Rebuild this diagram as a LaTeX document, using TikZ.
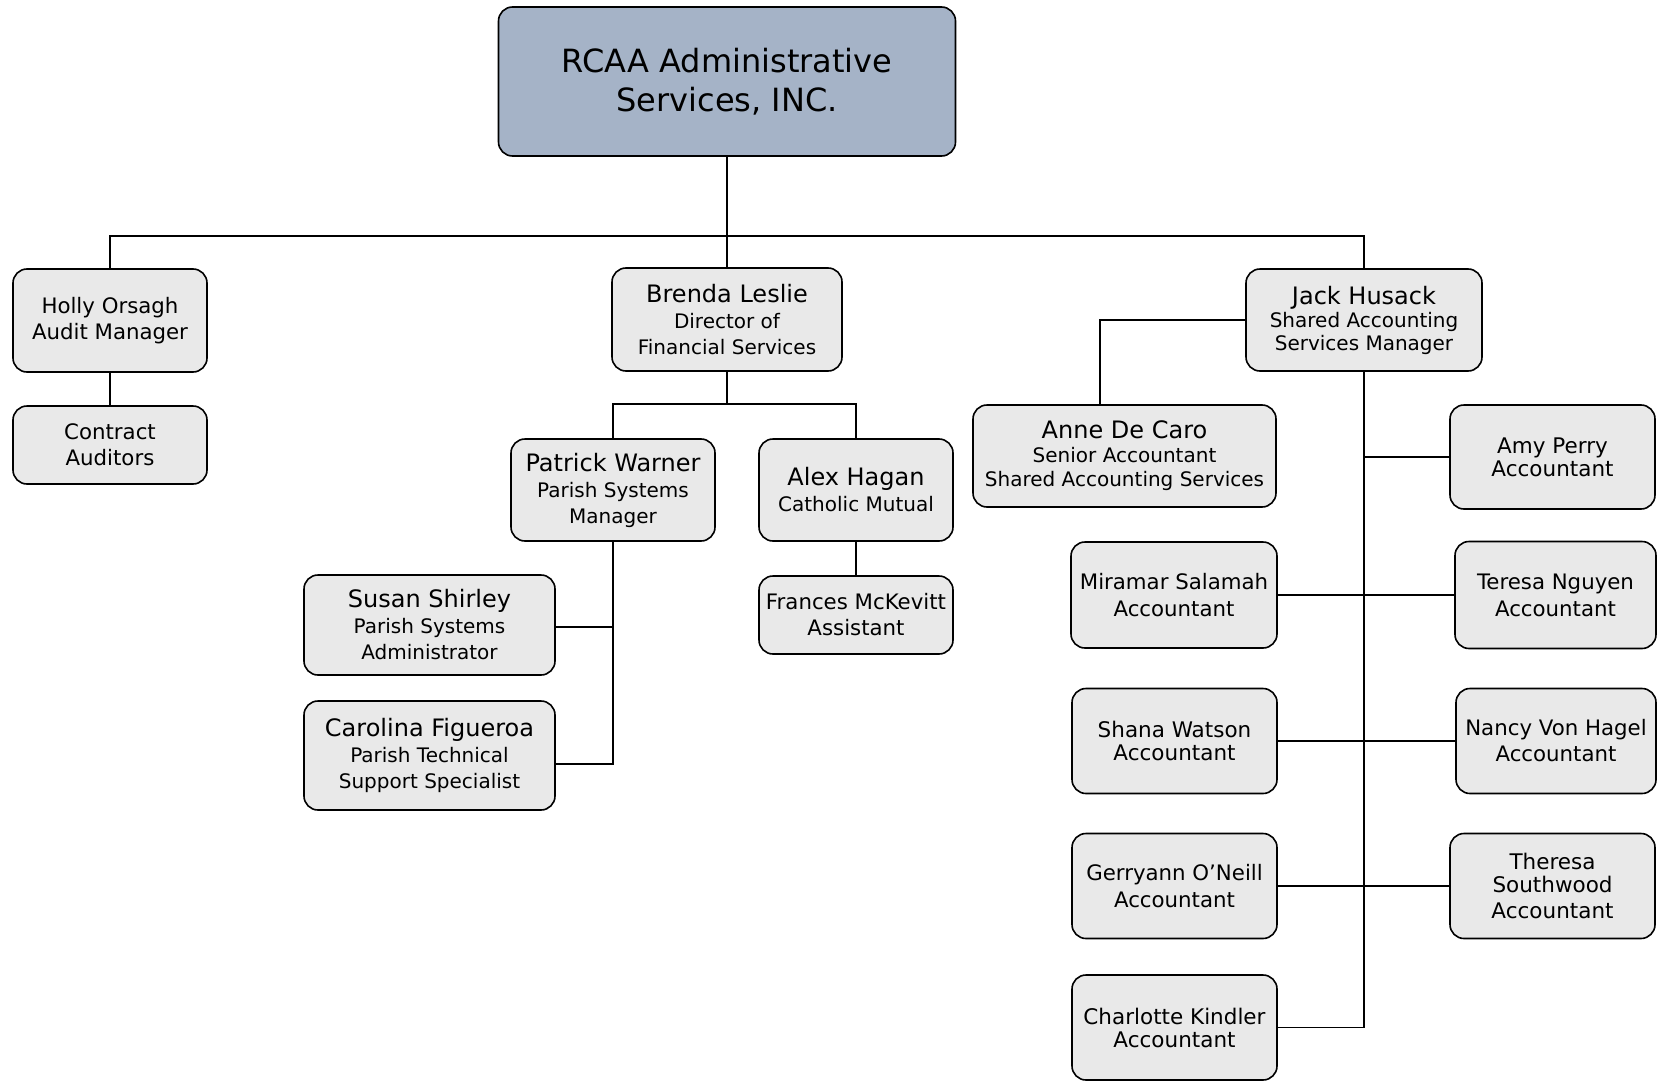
\documentclass[tikz,border=0pt]{standalone}
\usepackage{fontspec}
\setmainfont{DejaVu Sans}
\definecolor{boxgray}{RGB}{233,233,233}
\definecolor{topblue}{RGB}{165,179,199}
\newcommand{\nm}[1]{{\fontsize{24}{27}\selectfont #1}}
\begin{document}
\begin{tikzpicture}[x=1pt,y=-1pt,
  box/.style={draw, line width=1.6pt, rounded corners=14pt, fill=boxgray, align=center, inner sep=0pt,
    font=\fontsize{20}{26}\selectfont},
  tight/.style={font=\fontsize{21.5}{23}\selectfont},
  mid/.style={font=\fontsize{21.3}{26}\selectfont},
  conn/.style={line width=1.6pt}]
\useasboundingbox (0,0) rectangle (1657,1081);
\node[box, fill=topblue, minimum width=457pt, minimum height=149pt, font=\fontsize{32}{39}\selectfont] (top) at (727,81.5) {RCAA Administrative\\Services, INC.};
\node[box, mid, minimum width=194pt, minimum height=103pt] (holly) at (110,320.5) {Holly Orsagh\\Audit Manager};
\node[box, mid, minimum width=194pt, minimum height=78pt] (contract) at (110,445) {Contract\\Auditors};
\node[box, minimum width=230pt, minimum height=103pt] (brenda) at (727,319.5) {\nm{Brenda Leslie}\\Director of\\Financial Services};
\node[box, minimum width=236pt, minimum height=102pt] (jack) at (1364,320) {\nm{Jack Husack}\\[-3pt]Shared Accounting\\[-3pt]Services Manager};
\node[box, minimum width=204pt, minimum height=102pt] (patrick) at (613,490) {\nm{Patrick Warner}\\Parish Systems\\Manager};
\node[box, minimum width=194pt, minimum height=102pt] (alex) at (856,490) {\nm{Alex Hagan}\\Catholic Mutual};
\node[box, mid, minimum width=194pt, minimum height=78pt] (frances) at (856,615) {Frances McKevitt\\Assistant};
\node[box, minimum width=251pt, minimum height=100pt] (susan) at (429.5,625) {\nm{Susan Shirley}\\Parish Systems\\Administrator};
\node[box, minimum width=251pt, minimum height=109pt] (carolina) at (429.5,755.5) {\nm{Carolina Figueroa}\\Parish Technical\\Support Specialist};
\node[box, minimum width=303pt, minimum height=102pt] (anne) at (1124.5,456) {\nm{Anne De Caro}\\[-2pt]Senior Accountant\\[-2pt]Shared Accounting Services};
\node[box, tight, minimum width=205pt, minimum height=104pt] (amy) at (1552.5,457) {Amy Perry\\Accountant};
\node[box, minimum width=206pt, minimum height=106pt, font=\fontsize{21.3}{27}\selectfont] (miramar) at (1174,595) {Miramar Salamah\\Accountant};
\node[box, minimum width=201pt, minimum height=107pt, font=\fontsize{21.3}{27}\selectfont] (teresa) at (1555.5,595) {Teresa Nguyen\\Accountant};
\node[box, tight, minimum width=205pt, minimum height=105pt] (shana) at (1174.5,741) {Shana Watson\\Accountant};
\node[box, mid, minimum width=200pt, minimum height=105pt] (nancy) at (1556,741) {Nancy Von Hagel\\Accountant};
\node[box, minimum width=205pt, minimum height=105pt, font=\fontsize{21.3}{27}\selectfont] (gerryann) at (1174.5,886) {Gerryann O’Neill\\Accountant};
\node[box, tight, minimum width=205pt, minimum height=105pt] (theresa) at (1552.5,886) {Theresa\\Southwood\\[3pt]Accountant};
\node[box, tight, minimum width=205pt, minimum height=105pt] (charlotte) at (1174.5,1027.5) {Charlotte Kindler\\Accountant};
% connectors
\coordinate (bus) at (727,236);
\coordinate (bb) at (727,404);
\draw[conn] (holly.north) |- (bus) -| (jack.north);
\draw[conn] (top.south) -- (brenda.north);
\draw[conn] (holly.south) -- (contract.north);
\draw[conn] (brenda.south) -- (bb);
\draw[conn] (patrick.north) |- (bb) -| (alex.north);
\draw[conn] (alex.south) -- (frances.north);
\draw[conn] (patrick.south) |- ([yshift=-8.5pt]carolina.east);
\draw[conn] ([yshift=-2pt]susan.east) -- ([yshift=-2pt]susan.east -| patrick.south);
\draw[conn] (jack.west) -| ([xshift=-24.5pt]anne.north);
\draw[conn] (jack.south) |- (charlotte.east);
\draw[conn] (amy.west) -- (amy.west -| jack.south);
\draw[conn] (miramar.east) -- (teresa.west);
\draw[conn] (shana.east) -- (nancy.west);
\draw[conn] (gerryann.east) -- (theresa.west);
\end{tikzpicture}
\end{document}
